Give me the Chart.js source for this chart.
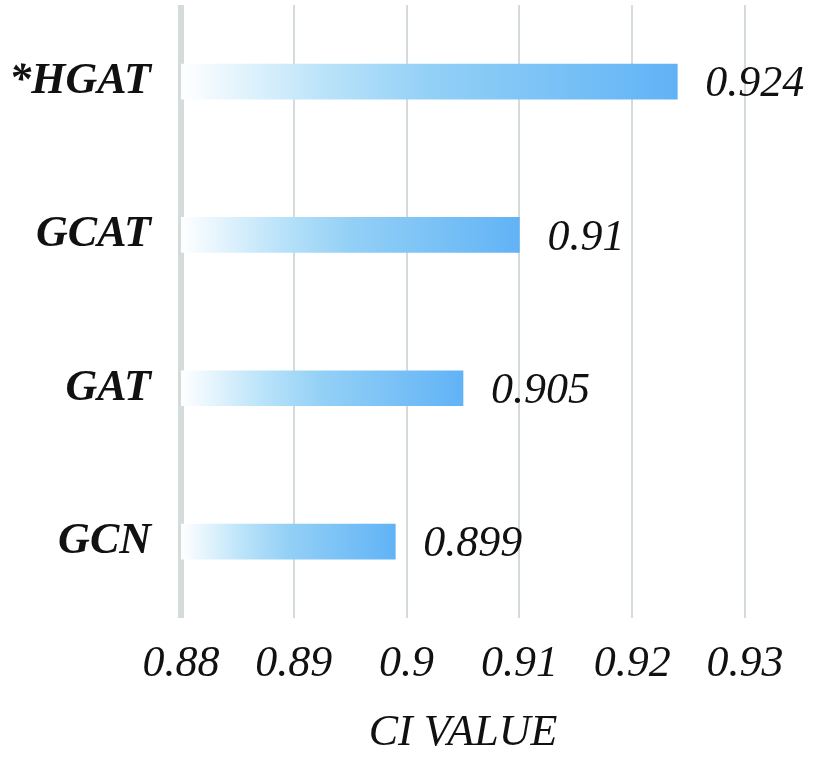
<!DOCTYPE html>
<html>
<head>
<meta charset="utf-8">
<script src="https://cdn.jsdelivr.net/npm/chart.js@4"></script>
<style>
  html, body { margin: 0; padding: 0; background: #fff; }
  #box { width: 816px; height: 759px; }
</style>
</head>
<body>
<div id="box"><canvas id="grafico-ci"></canvas></div>
<script>
const modelos = ["*HGAT", "GCAT", "GAT", "GCN"];
const valoresCI = [0.924, 0.91, 0.905, 0.899];
const ticksX = [0.88, 0.89, 0.9, 0.91, 0.92, 0.93];

const fonte = "'Liberation Serif', 'Times New Roman', serif";

// rotulo de valor no fim de cada barra
const rotulosBarras = {
  id: "rotulosBarras",
  afterDatasetsDraw(chart) {
    const ctx = chart.ctx;
    const meta = chart.getDatasetMeta(0);
    ctx.save();
    ctx.font = "italic 44px " + fonte;
    ctx.fillStyle = "#111";
    ctx.textAlign = "left";
    ctx.textBaseline = "middle";
    meta.data.forEach((barra, i) => {
      ctx.fillText(String(valoresCI[i]), barra.x + 28, barra.y + 3);
    });
    ctx.restore();
  }
};

function gradienteBarra(c) {
  const chart = c.chart;
  if (!chart.chartArea || c.dataIndex === undefined) return "#62b3f6";
  const x = chart.scales.x;
  const x0 = x.getPixelForValue(x.min);
  const x1 = x.getPixelForValue(valoresCI[c.dataIndex]);
  const g = chart.ctx.createLinearGradient(x0, 0, x1, 0);
  g.addColorStop(0, "#ffffff");
  g.addColorStop(0.3, "#b8e2f9");
  g.addColorStop(0.5, "#93d0f6");
  g.addColorStop(1, "#61b3f6");
  return g;
}

new Chart(document.getElementById("grafico-ci"), {
  type: "bar",
  data: {
    labels: modelos,
    datasets: [{
      data: valoresCI,
      backgroundColor: gradienteBarra,
      borderWidth: 0,
      barThickness: 35,
    }],
  },
  options: {
    indexAxis: "y",
    responsive: true,
    maintainAspectRatio: false,
    animation: false,
    layout: { padding: { top: 5, right: 71, bottom: 0, left: 0 } },
    plugins: {
      legend: { display: false },
      title: { display: false },
      tooltip: { enabled: false },
    },
    scales: {
      x: {
        min: 0.88,
        max: 0.93,
        afterBuildTicks: s => { s.ticks = ticksX.map(v => ({ value: v })); },
        grid: {
          color: "#d3dcdb",
          lineWidth: c => (c.index === 0 ? 6 : 2),
          drawTicks: false,
        },
        border: { display: false },
        ticks: {
          color: "#111",
          padding: 20,
          font: { family: fonte, size: 44, style: "italic" },
          callback: v => String(Number(v.toFixed(2))),
        },
        title: {
          display: true,
          text: "CI VALUE",
          color: "#111",
          padding: { top: 0, bottom: 4 },
          font: { family: fonte, size: 44, style: "italic", lineHeight: 1 },
        },
      },
      y: {
        afterFit: s => {
          s.width = 181;
          s.paddingTop = 0;
          s.paddingBottom = 0;
        },
        grid: { display: false, drawTicks: false },
        border: { display: false },
        ticks: {
          color: "#111",
          padding: 30,
          font: { family: fonte, size: 44, style: "italic", weight: "bold" },
        },
      },
    },
  },
  plugins: [rotulosBarras],
});
</script>
</body>
</html>
